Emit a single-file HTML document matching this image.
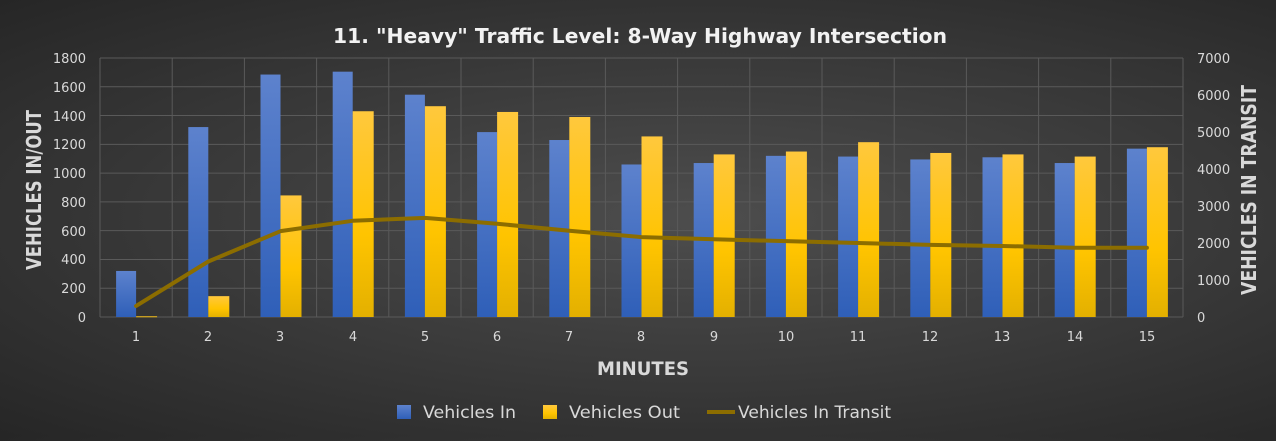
<!DOCTYPE html>
<html><head><style>
html,body{margin:0;padding:0;}
body{width:1276px;height:436px;overflow:hidden;background:radial-gradient(ellipse at 55% 50%,#4d4d4d 0%,#3a3a3a 50%,#262626 100%);font-family:"Liberation Sans","DejaVu Sans",sans-serif;}
svg text{font-family:"DejaVu Sans","Liberation Sans",sans-serif;}
</style></head><body>
<svg id="c" width="1276" height="436" xmlns="http://www.w3.org/2000/svg">
<defs>
<linearGradient id="gb" x1="0" y1="0" x2="0" y2="1"><stop offset="0" stop-color="#5d82cd"/><stop offset="1" stop-color="#2f5fb8"/></linearGradient>
<linearGradient id="gy" x1="0" y1="0" x2="0" y2="1"><stop offset="0" stop-color="#ffc83d"/><stop offset="0.6" stop-color="#ffc400"/><stop offset="1" stop-color="#e3b000"/></linearGradient>
</defs>
<g id="grid" stroke="#5a5a5a" stroke-width="1"></g>
<g id="bars"></g>
<polyline id="ln" fill="none" stroke="#8c6d00" stroke-width="4" stroke-linejoin="round" stroke-linecap="round"/>
<text x="333" y="43" fill="#f2f2f2" font-size="20" font-weight="bold" textLength="614" lengthAdjust="spacingAndGlyphs">11. "Heavy" Traffic Level: 8-Way Highway Intersection</text>
<g fill="#d9d9d9" font-size="13" text-anchor="end">
<text x="86" y="322">0</text><text x="86" y="293">200</text><text x="86" y="264">400</text><text x="86" y="236">600</text><text x="86" y="207">800</text><text x="86" y="178">1000</text><text x="86" y="149">1200</text><text x="86" y="121">1400</text><text x="86" y="92">1600</text><text x="86" y="63">1800</text>
</g>
<g fill="#d9d9d9" font-size="13" text-anchor="start">
<text x="1197" y="322">0</text><text x="1197" y="285">1000</text><text x="1197" y="248">2000</text><text x="1197" y="211">3000</text><text x="1197" y="174">4000</text><text x="1197" y="137">5000</text><text x="1197" y="100">6000</text><text x="1197" y="63">7000</text>
</g>
<g fill="#d9d9d9" font-size="13" text-anchor="middle">
<text x="136" y="341">1</text><text x="208" y="341">2</text><text x="280" y="341">3</text><text x="353" y="341">4</text><text x="425" y="341">5</text><text x="497" y="341">6</text><text x="569" y="341">7</text><text x="641" y="341">8</text><text x="714" y="341">9</text><text x="786" y="341">10</text><text x="858" y="341">11</text><text x="930" y="341">12</text><text x="1002" y="341">13</text><text x="1075" y="341">14</text><text x="1147" y="341">15</text>
</g>
<text x="597" y="375" fill="#d9d9d9" font-size="19" font-weight="bold" textLength="92" lengthAdjust="spacingAndGlyphs">MINUTES</text>
<text transform="translate(41,270) rotate(-90)" fill="#d9d9d9" font-size="20" font-weight="bold" textLength="160" lengthAdjust="spacingAndGlyphs">VEHICLES IN/OUT</text>
<text transform="translate(1256,295) rotate(-90)" fill="#d9d9d9" font-size="20" font-weight="bold" textLength="210" lengthAdjust="spacingAndGlyphs">VEHICLES IN TRANSIT</text>
<rect x="397" y="405" width="14" height="14" fill="url(#gb)"/>
<text x="423" y="418" fill="#d9d9d9" font-size="17" textLength="93" lengthAdjust="spacingAndGlyphs">Vehicles In</text>
<rect x="543" y="405" width="14" height="14" fill="url(#gy)"/>
<text x="569" y="418" fill="#d9d9d9" font-size="17" textLength="111" lengthAdjust="spacingAndGlyphs">Vehicles Out</text>
<line x1="707" y1="412" x2="735" y2="412" stroke="#8c6d00" stroke-width="4"/>
<text x="738" y="418" fill="#d9d9d9" font-size="17" textLength="153" lengthAdjust="spacingAndGlyphs">Vehicles In Transit</text>
</svg>
<script>
var ns="http://www.w3.org/2000/svg";
var vin=[320,1320,1685,1705,1545,1285,1230,1060,1070,1120,1115,1095,1110,1070,1170];
var vout=[5,145,845,1430,1465,1425,1390,1255,1130,1150,1215,1140,1130,1115,1180];
var tr=[300,1500,2320,2600,2680,2520,2330,2160,2100,2050,2000,1950,1920,1870,1870];
var g=document.getElementById('grid'),b=document.getElementById('bars');
function el(p,t,a){var e=document.createElementNS(ns,t);for(var k in a)e.setAttribute(k,a[k]);p.appendChild(e);return e;}
for(var k=0;k<=9;k++){var y=317-k*259/9;el(g,'line',{x1:100,x2:1183,y1:y,y2:y});}
for(var i=0;i<=15;i++){var x=100+72.2*i;el(g,'line',{x1:x,x2:x,y1:58,y2:317});}
var pts=[];
for(var i=0;i<15;i++){var c=100+72.2*(i+0.5);
var h=vin[i]*259/1800;el(b,'rect',{x:c-20,y:317-h,width:20,height:h,fill:'url(#gb)'});
h=vout[i]*259/1800;el(b,'rect',{x:c,y:317-h,width:21,height:Math.max(h,1),fill:'url(#gy)'});
pts.push(c+','+(317-tr[i]*259/7000));}
document.getElementById('ln').setAttribute('points',pts.join(' '));
</script>
</body></html>
